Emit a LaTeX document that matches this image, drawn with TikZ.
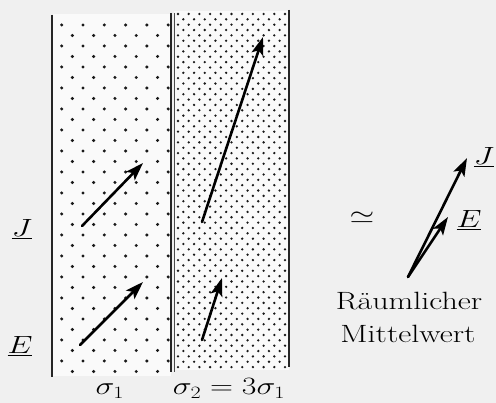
\documentclass[tikz,border=0pt]{standalone}
\usetikzlibrary{arrows.meta}
\newcommand{\wide}[1]{\scalebox{1.28}[1]{#1}}
\begin{document}
\begin{tikzpicture}[x=1pt,y=-1pt,
  vec/.style={line width=2.6pt,line cap=round,-{Stealth[length=18pt,width=12pt,inset=4pt]}},
  lbl/.style={inner sep=0pt,font=\fontsize{25}{33}\selectfont},
  wall/.style={line width=1.5pt,draw=black!85},
  dotA/.style={fill=black!90},
]
\fill[black!6] (0,0) rectangle (496,403);
\useasboundingbox (0,0) rectangle (496,403);
% strips
\fill[black!2] (53,14) rectangle (171,376);
\fill[black!2] (174,11) rectangle (289,370);
% sparse dots, sigma_1
\foreach \j in {0,...,33}{
  \pgfmathsetmacro{\yy}{25+\j*10.5}
  \pgfmathsetmacro{\off}{mod(\j,2)*10.65}
  \foreach \i in {0,...,5}{
    \pgfmathsetmacro{\xx}{61.7+\off+\i*21.3}
    \ifdim\xx pt<170pt
      \fill[dotA] (\xx,\yy) circle (1.7);
    \fi
  }
}
% dense dots, sigma_2
\foreach \j in {0,...,66}{
  \pgfmathsetmacro{\yy}{14+\j*5.35}
  \pgfmathsetmacro{\off}{mod(\j,2)*5.35}
  \foreach \i in {0,...,10}{
    \pgfmathsetmacro{\xx}{178+\off+\i*10.7}
    \ifdim\xx pt<287pt
      \fill[dotA] (\xx,\yy) circle (1.3);
    \fi
  }
}
% walls
\draw[wall] (52,15) -- (52,377);
\draw[wall] (171,13) -- (171,372);
\draw[line width=0.6pt,draw=black!70] (174,13) -- (174,372);
\draw[wall] (289,10) -- (289,367);
% vectors in the layers
\coordinate (a1s) at (82,226);  \coordinate (a1e) at (143,163);
\coordinate (a2s) at (80,345);  \coordinate (a2e) at (143,282);
\coordinate (a3s) at (202,222); \coordinate (a3e) at (263,37);
\coordinate (a4s) at (202,340); \coordinate (a4e) at (222,278);
\draw[vec] (a1s) -- (a1e);
\draw[vec] (a2s) -- (a2e);
\draw[vec] (a3s) -- (a3e);
\draw[vec] (a4s) -- (a4e);
% mean vectors
\coordinate (ms) at (408,277);
\coordinate (mj) at (467,158);
\coordinate (me) at (448,217);
\draw[vec] (ms) -- (mj);
\draw[vec] (ms) -- (me);
% labels
\node[lbl] (Jl) at (22,229) {\wide{$\underline{J}$}};
\node[lbl] (El) at (20,346) {\wide{$\underline{E}$}};
\node[lbl,anchor=base] (s1) at (110,395) {\wide{$\sigma_1$}};
\node[lbl,anchor=base] (s2) at (229,395) {\wide{$\sigma_2=3\sigma_1$}};
\node[lbl] (eq) at (362,218) {\wide{$\simeq$}};
\node[lbl] (Jr) at (484,157) {\wide{$\underline{J}$}};
\node[lbl] (Er) at (469,220) {\wide{$\underline{E}$}};
\node[lbl,anchor=base] (t1) at (409,310) {\wide{Räumlicher}};
\node[lbl,anchor=base] (t2) at (408,343) {\wide{Mittelwert}};
\end{tikzpicture}
\end{document}
